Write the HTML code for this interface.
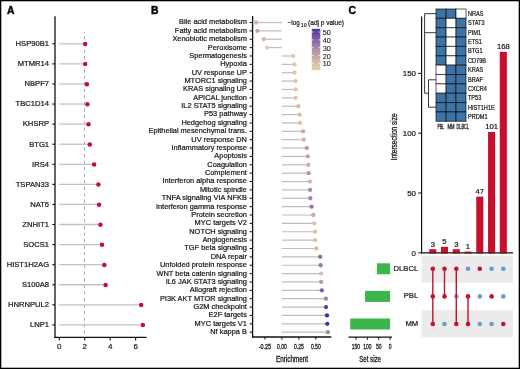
<!DOCTYPE html>
<html><head><meta charset="utf-8"><style>
html,body{margin:0;padding:0;background:#fff;}
svg{display:block;will-change:transform;}
text{font-family:"Liberation Sans", sans-serif;fill:#1a1a1a;stroke:#1a1a1a;stroke-width:0.22px;}
.cd{stroke:#1a1a1a;stroke-width:0.32px;}
</style></head><body>
<svg width="520" height="369" viewBox="0 0 520 369" font-family='"Liberation Sans", sans-serif'>
<rect width="520" height="369" fill="#fff"/>
<line x1="84.5" y1="32.0" x2="84.5" y2="337.35" stroke="#a8a8a8" stroke-width="1" stroke-dasharray="3.27,3.27" stroke-dashoffset="2.24"/>
<line x1="59.3" y1="43.80" x2="85.2" y2="43.80" stroke="#c2c2c6" stroke-width="1.3"/>
<circle cx="85.2" cy="44.00" r="2.25" fill="#c8102e"/>
<line x1="52.3" y1="43.80" x2="55.0" y2="43.80" stroke="#111" stroke-width="1.1"/>
<text x="49.1" y="46.15" text-anchor="end" font-size="7.65">HSP90B1</text>
<line x1="59.3" y1="63.88" x2="85.2" y2="63.88" stroke="#c2c2c6" stroke-width="1.3"/>
<circle cx="85.2" cy="64.08" r="2.25" fill="#c8102e"/>
<line x1="52.3" y1="63.88" x2="55.0" y2="63.88" stroke="#111" stroke-width="1.1"/>
<text x="49.1" y="66.23" text-anchor="end" font-size="7.65">MTMR14</text>
<line x1="59.3" y1="83.96" x2="86.9" y2="83.96" stroke="#c2c2c6" stroke-width="1.3"/>
<circle cx="86.9" cy="84.16" r="2.25" fill="#c8102e"/>
<line x1="52.3" y1="83.96" x2="55.0" y2="83.96" stroke="#111" stroke-width="1.1"/>
<text x="49.1" y="86.31" text-anchor="end" font-size="7.65">NBPF7</text>
<line x1="59.3" y1="104.04" x2="87.4" y2="104.04" stroke="#c2c2c6" stroke-width="1.3"/>
<circle cx="87.4" cy="104.24" r="2.25" fill="#c8102e"/>
<line x1="52.3" y1="104.04" x2="55.0" y2="104.04" stroke="#111" stroke-width="1.1"/>
<text x="49.1" y="106.39" text-anchor="end" font-size="7.65">TBC1D14</text>
<line x1="59.3" y1="124.12" x2="88.5" y2="124.12" stroke="#c2c2c6" stroke-width="1.3"/>
<circle cx="88.5" cy="124.32" r="2.25" fill="#c8102e"/>
<line x1="52.3" y1="124.12" x2="55.0" y2="124.12" stroke="#111" stroke-width="1.1"/>
<text x="49.1" y="126.47" text-anchor="end" font-size="7.65">KHSRP</text>
<line x1="59.3" y1="144.20" x2="89.8" y2="144.20" stroke="#c2c2c6" stroke-width="1.3"/>
<circle cx="89.8" cy="144.40" r="2.25" fill="#c8102e"/>
<line x1="52.3" y1="144.20" x2="55.0" y2="144.20" stroke="#111" stroke-width="1.1"/>
<text x="49.1" y="146.55" text-anchor="end" font-size="7.65">BTG1</text>
<line x1="59.3" y1="164.28" x2="94.1" y2="164.28" stroke="#c2c2c6" stroke-width="1.3"/>
<circle cx="94.1" cy="164.48" r="2.25" fill="#c8102e"/>
<line x1="52.3" y1="164.28" x2="55.0" y2="164.28" stroke="#111" stroke-width="1.1"/>
<text x="49.1" y="166.63" text-anchor="end" font-size="7.65">IRS4</text>
<line x1="59.3" y1="184.36" x2="98.4" y2="184.36" stroke="#c2c2c6" stroke-width="1.3"/>
<circle cx="98.4" cy="184.56" r="2.25" fill="#c8102e"/>
<line x1="52.3" y1="184.36" x2="55.0" y2="184.36" stroke="#111" stroke-width="1.1"/>
<text x="49.1" y="186.71" text-anchor="end" font-size="7.65">TSPAN33</text>
<line x1="59.3" y1="204.44" x2="99.1" y2="204.44" stroke="#c2c2c6" stroke-width="1.3"/>
<circle cx="99.1" cy="204.64" r="2.25" fill="#c8102e"/>
<line x1="52.3" y1="204.44" x2="55.0" y2="204.44" stroke="#111" stroke-width="1.1"/>
<text x="49.1" y="206.79" text-anchor="end" font-size="7.65">NAT6</text>
<line x1="59.3" y1="224.52" x2="100.4" y2="224.52" stroke="#c2c2c6" stroke-width="1.3"/>
<circle cx="100.4" cy="224.72" r="2.25" fill="#c8102e"/>
<line x1="52.3" y1="224.52" x2="55.0" y2="224.52" stroke="#111" stroke-width="1.1"/>
<text x="49.1" y="226.87" text-anchor="end" font-size="7.65">ZNHIT1</text>
<line x1="59.3" y1="244.60" x2="102.0" y2="244.60" stroke="#c2c2c6" stroke-width="1.3"/>
<circle cx="102.0" cy="244.80" r="2.25" fill="#c8102e"/>
<line x1="52.3" y1="244.60" x2="55.0" y2="244.60" stroke="#111" stroke-width="1.1"/>
<text x="49.1" y="246.95" text-anchor="end" font-size="7.65">SOCS1</text>
<line x1="59.3" y1="264.68" x2="104.3" y2="264.68" stroke="#c2c2c6" stroke-width="1.3"/>
<circle cx="104.3" cy="264.88" r="2.25" fill="#c8102e"/>
<line x1="52.3" y1="264.68" x2="55.0" y2="264.68" stroke="#111" stroke-width="1.1"/>
<text x="49.1" y="267.03" text-anchor="end" font-size="7.65">HIST1H2AG</text>
<line x1="59.3" y1="284.76" x2="105.6" y2="284.76" stroke="#c2c2c6" stroke-width="1.3"/>
<circle cx="105.6" cy="284.96" r="2.25" fill="#c8102e"/>
<line x1="52.3" y1="284.76" x2="55.0" y2="284.76" stroke="#111" stroke-width="1.1"/>
<text x="49.1" y="287.11" text-anchor="end" font-size="7.65">S100A8</text>
<line x1="59.3" y1="304.84" x2="141.2" y2="304.84" stroke="#c2c2c6" stroke-width="1.3"/>
<circle cx="141.2" cy="305.04" r="2.25" fill="#c8102e"/>
<line x1="52.3" y1="304.84" x2="55.0" y2="304.84" stroke="#111" stroke-width="1.1"/>
<text x="49.1" y="307.19" text-anchor="end" font-size="7.65">HNRNPUL2</text>
<line x1="59.3" y1="324.92" x2="142.9" y2="324.92" stroke="#c2c2c6" stroke-width="1.3"/>
<circle cx="142.9" cy="325.12" r="2.25" fill="#c8102e"/>
<line x1="52.3" y1="324.92" x2="55.0" y2="324.92" stroke="#111" stroke-width="1.1"/>
<text x="49.1" y="327.27" text-anchor="end" font-size="7.65">LNP1</text>
<line x1="55.0" y1="16.2" x2="55.0" y2="337.95000000000005" stroke="#111" stroke-width="1.3"/>
<line x1="54.4" y1="337.35" x2="146.5" y2="337.35" stroke="#111" stroke-width="1.3"/>
<line x1="59.30" y1="337.35" x2="59.30" y2="340.55" stroke="#111" stroke-width="1.1"/>
<text x="59.30" y="348.55" text-anchor="middle" font-size="8.0">0</text>
<line x1="84.74" y1="337.35" x2="84.74" y2="340.55" stroke="#111" stroke-width="1.1"/>
<text x="84.74" y="348.55" text-anchor="middle" font-size="8.0">2</text>
<line x1="110.18" y1="337.35" x2="110.18" y2="340.55" stroke="#111" stroke-width="1.1"/>
<text x="110.18" y="348.55" text-anchor="middle" font-size="8.0">4</text>
<line x1="135.62" y1="337.35" x2="135.62" y2="340.55" stroke="#111" stroke-width="1.1"/>
<text x="135.62" y="348.55" text-anchor="middle" font-size="8.0">6</text>
<text x="7.0" y="13.9" font-size="10.4" font-weight="bold" style="fill:#000;stroke:#000;stroke-width:0.4px">A</text>
<line x1="281.9" y1="22.50" x2="256.1" y2="22.50" stroke="#bdbdbd" stroke-width="1.2"/>
<circle cx="256.1" cy="22.50" r="2.15" fill="#d8b4a4"/>
<line x1="249.6" y1="22.50" x2="252.6" y2="22.50" stroke="#111" stroke-width="1"/>
<text x="246.9" y="24.40" text-anchor="end" font-size="7.42">Bile acid metabolism</text>
<line x1="281.9" y1="30.87" x2="257.5" y2="30.87" stroke="#bdbdbd" stroke-width="1.2"/>
<circle cx="257.5" cy="30.87" r="2.15" fill="#c8a2a4"/>
<line x1="249.6" y1="30.87" x2="252.6" y2="30.87" stroke="#111" stroke-width="1"/>
<text x="246.9" y="32.77" text-anchor="end" font-size="7.42">Fatty acid metabolism</text>
<line x1="281.9" y1="39.24" x2="263.8" y2="39.24" stroke="#bdbdbd" stroke-width="1.2"/>
<circle cx="263.8" cy="39.24" r="2.15" fill="#d8b6a4"/>
<line x1="249.6" y1="39.24" x2="252.6" y2="39.24" stroke="#111" stroke-width="1"/>
<text x="246.9" y="41.14" text-anchor="end" font-size="7.42">Xenobiotic metabolism</text>
<line x1="281.9" y1="47.61" x2="267.1" y2="47.61" stroke="#bdbdbd" stroke-width="1.2"/>
<circle cx="267.1" cy="47.61" r="2.15" fill="#e6cda2"/>
<line x1="249.6" y1="47.61" x2="252.6" y2="47.61" stroke="#111" stroke-width="1"/>
<text x="246.9" y="49.51" text-anchor="end" font-size="7.42">Peroxisome</text>
<line x1="281.9" y1="55.98" x2="293.2" y2="55.98" stroke="#bdbdbd" stroke-width="1.2"/>
<circle cx="293.2" cy="55.98" r="2.15" fill="#e0c8a4"/>
<line x1="249.6" y1="55.98" x2="252.6" y2="55.98" stroke="#111" stroke-width="1"/>
<text x="246.9" y="57.88" text-anchor="end" font-size="7.42">Spermatogenesis</text>
<line x1="281.9" y1="64.35" x2="294.5" y2="64.35" stroke="#bdbdbd" stroke-width="1.2"/>
<circle cx="294.5" cy="64.35" r="2.15" fill="#e0c8a4"/>
<line x1="249.6" y1="64.35" x2="252.6" y2="64.35" stroke="#111" stroke-width="1"/>
<text x="246.9" y="66.25" text-anchor="end" font-size="7.42">Hypoxia</text>
<line x1="281.9" y1="72.72" x2="294.5" y2="72.72" stroke="#bdbdbd" stroke-width="1.2"/>
<circle cx="294.5" cy="72.72" r="2.15" fill="#e0c8a4"/>
<line x1="249.6" y1="72.72" x2="252.6" y2="72.72" stroke="#111" stroke-width="1"/>
<text x="246.9" y="74.62" text-anchor="end" font-size="7.42">UV response UP</text>
<line x1="281.9" y1="81.09" x2="295.6" y2="81.09" stroke="#bdbdbd" stroke-width="1.2"/>
<circle cx="295.6" cy="81.09" r="2.15" fill="#dec6a4"/>
<line x1="249.6" y1="81.09" x2="252.6" y2="81.09" stroke="#111" stroke-width="1"/>
<text x="246.9" y="82.99" text-anchor="end" font-size="7.42">MTORC1 signaling</text>
<line x1="281.9" y1="89.46" x2="295.6" y2="89.46" stroke="#bdbdbd" stroke-width="1.2"/>
<circle cx="295.6" cy="89.46" r="2.15" fill="#dec6a4"/>
<line x1="249.6" y1="89.46" x2="252.6" y2="89.46" stroke="#111" stroke-width="1"/>
<text x="246.9" y="91.36" text-anchor="end" font-size="7.42">KRAS signaling UP</text>
<line x1="281.9" y1="97.83" x2="295.6" y2="97.83" stroke="#bdbdbd" stroke-width="1.2"/>
<circle cx="295.6" cy="97.83" r="2.15" fill="#dec6a4"/>
<line x1="249.6" y1="97.83" x2="252.6" y2="97.83" stroke="#111" stroke-width="1"/>
<text x="246.9" y="99.73" text-anchor="end" font-size="7.42">APICAL junction</text>
<line x1="281.9" y1="106.20" x2="298.4" y2="106.20" stroke="#bdbdbd" stroke-width="1.2"/>
<circle cx="298.4" cy="106.20" r="2.15" fill="#d8bca4"/>
<line x1="249.6" y1="106.20" x2="252.6" y2="106.20" stroke="#111" stroke-width="1"/>
<text x="246.9" y="108.10" text-anchor="end" font-size="7.42">IL2 STAT5 signaling</text>
<line x1="281.9" y1="114.57" x2="299.7" y2="114.57" stroke="#bdbdbd" stroke-width="1.2"/>
<circle cx="299.7" cy="114.57" r="2.15" fill="#d8bca4"/>
<line x1="249.6" y1="114.57" x2="252.6" y2="114.57" stroke="#111" stroke-width="1"/>
<text x="246.9" y="116.47" text-anchor="end" font-size="7.42">P53 pathway</text>
<line x1="281.9" y1="122.94" x2="300.1" y2="122.94" stroke="#bdbdbd" stroke-width="1.2"/>
<circle cx="300.1" cy="122.94" r="2.15" fill="#dec6a4"/>
<line x1="249.6" y1="122.94" x2="252.6" y2="122.94" stroke="#111" stroke-width="1"/>
<text x="246.9" y="124.84" text-anchor="end" font-size="7.42">Hedgehog signaling</text>
<line x1="281.9" y1="131.31" x2="303.1" y2="131.31" stroke="#bdbdbd" stroke-width="1.2"/>
<circle cx="303.1" cy="131.31" r="2.15" fill="#d0a8a0"/>
<line x1="249.6" y1="131.31" x2="252.6" y2="131.31" stroke="#111" stroke-width="1"/>
<text x="246.9" y="133.21" text-anchor="end" font-size="7.42">Epithelial mesenchymal trans.</text>
<line x1="281.9" y1="139.68" x2="303.8" y2="139.68" stroke="#bdbdbd" stroke-width="1.2"/>
<circle cx="303.8" cy="139.68" r="2.15" fill="#d8b4a0"/>
<line x1="249.6" y1="139.68" x2="252.6" y2="139.68" stroke="#111" stroke-width="1"/>
<text x="246.9" y="141.58" text-anchor="end" font-size="7.42">UV response DN</text>
<line x1="281.9" y1="148.05" x2="306.8" y2="148.05" stroke="#bdbdbd" stroke-width="1.2"/>
<circle cx="306.8" cy="148.05" r="2.15" fill="#bc92a4"/>
<line x1="249.6" y1="148.05" x2="252.6" y2="148.05" stroke="#111" stroke-width="1"/>
<text x="246.9" y="149.95" text-anchor="end" font-size="7.42">Inflammatory response</text>
<line x1="281.9" y1="156.42" x2="307.9" y2="156.42" stroke="#bdbdbd" stroke-width="1.2"/>
<circle cx="307.9" cy="156.42" r="2.15" fill="#c8a0a4"/>
<line x1="249.6" y1="156.42" x2="252.6" y2="156.42" stroke="#111" stroke-width="1"/>
<text x="246.9" y="158.32" text-anchor="end" font-size="7.42">Apoptosis</text>
<line x1="281.9" y1="164.79" x2="308.3" y2="164.79" stroke="#bdbdbd" stroke-width="1.2"/>
<circle cx="308.3" cy="164.79" r="2.15" fill="#d0aaa2"/>
<line x1="249.6" y1="164.79" x2="252.6" y2="164.79" stroke="#111" stroke-width="1"/>
<text x="246.9" y="166.69" text-anchor="end" font-size="7.42">Coagulation</text>
<line x1="281.9" y1="173.16" x2="308.6" y2="173.16" stroke="#bdbdbd" stroke-width="1.2"/>
<circle cx="308.6" cy="173.16" r="2.15" fill="#b890aa"/>
<line x1="249.6" y1="173.16" x2="252.6" y2="173.16" stroke="#111" stroke-width="1"/>
<text x="246.9" y="175.06" text-anchor="end" font-size="7.42">Complement</text>
<line x1="281.9" y1="181.53" x2="309.9" y2="181.53" stroke="#bdbdbd" stroke-width="1.2"/>
<circle cx="309.9" cy="181.53" r="2.15" fill="#d6b4a6"/>
<line x1="249.6" y1="181.53" x2="252.6" y2="181.53" stroke="#111" stroke-width="1"/>
<text x="246.9" y="183.43" text-anchor="end" font-size="7.42">Interferon alpha response</text>
<line x1="281.9" y1="189.90" x2="310.1" y2="189.90" stroke="#bdbdbd" stroke-width="1.2"/>
<circle cx="310.1" cy="189.90" r="2.15" fill="#ae86aa"/>
<line x1="249.6" y1="189.90" x2="252.6" y2="189.90" stroke="#111" stroke-width="1"/>
<text x="246.9" y="191.80" text-anchor="end" font-size="7.42">Mitotic spindle</text>
<line x1="281.9" y1="198.27" x2="310.3" y2="198.27" stroke="#bdbdbd" stroke-width="1.2"/>
<circle cx="310.3" cy="198.27" r="2.15" fill="#a880a8"/>
<line x1="249.6" y1="198.27" x2="252.6" y2="198.27" stroke="#111" stroke-width="1"/>
<text x="246.9" y="200.17" text-anchor="end" font-size="7.42">TNFA signaling VIA NFKB</text>
<line x1="281.9" y1="206.64" x2="311.6" y2="206.64" stroke="#bdbdbd" stroke-width="1.2"/>
<circle cx="311.6" cy="206.64" r="2.15" fill="#9a78a4"/>
<line x1="249.6" y1="206.64" x2="252.6" y2="206.64" stroke="#111" stroke-width="1"/>
<text x="246.9" y="208.54" text-anchor="end" font-size="7.42">Interferon gamma response</text>
<line x1="281.9" y1="215.01" x2="313.3" y2="215.01" stroke="#bdbdbd" stroke-width="1.2"/>
<circle cx="313.3" cy="215.01" r="2.15" fill="#d0a8a4"/>
<line x1="249.6" y1="215.01" x2="252.6" y2="215.01" stroke="#111" stroke-width="1"/>
<text x="246.9" y="216.91" text-anchor="end" font-size="7.42">Protein secretion</text>
<line x1="281.9" y1="223.38" x2="314.4" y2="223.38" stroke="#bdbdbd" stroke-width="1.2"/>
<circle cx="314.4" cy="223.38" r="2.15" fill="#d8c0a4"/>
<line x1="249.6" y1="223.38" x2="252.6" y2="223.38" stroke="#111" stroke-width="1"/>
<text x="246.9" y="225.28" text-anchor="end" font-size="7.42">MYC targets V2</text>
<line x1="281.9" y1="231.75" x2="315.0" y2="231.75" stroke="#bdbdbd" stroke-width="1.2"/>
<circle cx="315.0" cy="231.75" r="2.15" fill="#dcc4a4"/>
<line x1="249.6" y1="231.75" x2="252.6" y2="231.75" stroke="#111" stroke-width="1"/>
<text x="246.9" y="233.65" text-anchor="end" font-size="7.42">NOTCH signaling</text>
<line x1="281.9" y1="240.12" x2="315.3" y2="240.12" stroke="#bdbdbd" stroke-width="1.2"/>
<circle cx="315.3" cy="240.12" r="2.15" fill="#dcc4a4"/>
<line x1="249.6" y1="240.12" x2="252.6" y2="240.12" stroke="#111" stroke-width="1"/>
<text x="246.9" y="242.02" text-anchor="end" font-size="7.42">Angiogenesis</text>
<line x1="281.9" y1="248.49" x2="316.4" y2="248.49" stroke="#bdbdbd" stroke-width="1.2"/>
<circle cx="316.4" cy="248.49" r="2.15" fill="#d8c0a4"/>
<line x1="249.6" y1="248.49" x2="252.6" y2="248.49" stroke="#111" stroke-width="1"/>
<text x="246.9" y="250.39" text-anchor="end" font-size="7.42">TGF beta signaling</text>
<line x1="281.9" y1="256.86" x2="320.2" y2="256.86" stroke="#bdbdbd" stroke-width="1.2"/>
<circle cx="320.2" cy="256.86" r="2.15" fill="#8a68a4"/>
<line x1="249.6" y1="256.86" x2="252.6" y2="256.86" stroke="#111" stroke-width="1"/>
<text x="246.9" y="258.76" text-anchor="end" font-size="7.42">DNA repair</text>
<line x1="281.9" y1="265.23" x2="320.7" y2="265.23" stroke="#bdbdbd" stroke-width="1.2"/>
<circle cx="320.7" cy="265.23" r="2.15" fill="#9c78a8"/>
<line x1="249.6" y1="265.23" x2="252.6" y2="265.23" stroke="#111" stroke-width="1"/>
<text x="246.9" y="267.13" text-anchor="end" font-size="7.42">Unfolded protein response</text>
<line x1="281.9" y1="273.60" x2="321.1" y2="273.60" stroke="#bdbdbd" stroke-width="1.2"/>
<circle cx="321.1" cy="273.60" r="2.15" fill="#d8c0a4"/>
<line x1="249.6" y1="273.60" x2="252.6" y2="273.60" stroke="#111" stroke-width="1"/>
<text x="246.9" y="275.50" text-anchor="end" font-size="7.42">WNT beta catenin signaling</text>
<line x1="281.9" y1="281.97" x2="321.1" y2="281.97" stroke="#bdbdbd" stroke-width="1.2"/>
<circle cx="321.1" cy="281.97" r="2.15" fill="#b898aa"/>
<line x1="249.6" y1="281.97" x2="252.6" y2="281.97" stroke="#111" stroke-width="1"/>
<text x="246.9" y="283.87" text-anchor="end" font-size="7.42">IL6 JAK STAT3 signaling</text>
<line x1="281.9" y1="290.34" x2="321.8" y2="290.34" stroke="#bdbdbd" stroke-width="1.2"/>
<circle cx="321.8" cy="290.34" r="2.15" fill="#7a5aa0"/>
<line x1="249.6" y1="290.34" x2="252.6" y2="290.34" stroke="#111" stroke-width="1"/>
<text x="246.9" y="292.24" text-anchor="end" font-size="7.42">Allograft rejection</text>
<line x1="281.9" y1="298.71" x2="325.9" y2="298.71" stroke="#bdbdbd" stroke-width="1.2"/>
<circle cx="325.9" cy="298.71" r="2.15" fill="#a586a8"/>
<line x1="249.6" y1="298.71" x2="252.6" y2="298.71" stroke="#111" stroke-width="1"/>
<text x="246.9" y="300.61" text-anchor="end" font-size="7.42">PI3K AKT MTOR signaling</text>
<line x1="281.9" y1="307.08" x2="326.0" y2="307.08" stroke="#bdbdbd" stroke-width="1.2"/>
<circle cx="326.0" cy="307.08" r="2.15" fill="#5b3a9c"/>
<line x1="249.6" y1="307.08" x2="252.6" y2="307.08" stroke="#111" stroke-width="1"/>
<text x="246.9" y="308.98" text-anchor="end" font-size="7.42">G2M checkpoint</text>
<line x1="281.9" y1="315.45" x2="327.0" y2="315.45" stroke="#bdbdbd" stroke-width="1.2"/>
<circle cx="327.0" cy="315.45" r="2.15" fill="#4a2d93"/>
<line x1="249.6" y1="315.45" x2="252.6" y2="315.45" stroke="#111" stroke-width="1"/>
<text x="246.9" y="317.35" text-anchor="end" font-size="7.42">E2F targets</text>
<line x1="281.9" y1="323.82" x2="327.3" y2="323.82" stroke="#bdbdbd" stroke-width="1.2"/>
<circle cx="327.3" cy="323.82" r="2.15" fill="#4a2d93"/>
<line x1="249.6" y1="323.82" x2="252.6" y2="323.82" stroke="#111" stroke-width="1"/>
<text x="246.9" y="325.72" text-anchor="end" font-size="7.42">MYC targets V1</text>
<line x1="281.9" y1="332.19" x2="327.9" y2="332.19" stroke="#bdbdbd" stroke-width="1.2"/>
<circle cx="327.9" cy="332.19" r="2.15" fill="#a586a8"/>
<line x1="249.6" y1="332.19" x2="252.6" y2="332.19" stroke="#111" stroke-width="1"/>
<text x="246.9" y="334.09" text-anchor="end" font-size="7.42">Nf kappa B</text>
<line x1="252.6" y1="16.1" x2="252.6" y2="337.6" stroke="#111" stroke-width="1.3"/>
<line x1="252.0" y1="337.0" x2="331.3" y2="337.0" stroke="#111" stroke-width="1.3"/>
<line x1="264.95" y1="337.0" x2="264.95" y2="339.6" stroke="#111" stroke-width="1"/>
<text x="264.95" y="348.9" text-anchor="middle" font-size="7.4" textLength="12.4" lengthAdjust="spacingAndGlyphs" class="cd">-0.25</text>
<line x1="281.90" y1="337.0" x2="281.90" y2="339.6" stroke="#111" stroke-width="1"/>
<text x="281.90" y="348.9" text-anchor="middle" font-size="7.4" textLength="9.8" lengthAdjust="spacingAndGlyphs" class="cd">0.00</text>
<line x1="298.85" y1="337.0" x2="298.85" y2="339.6" stroke="#111" stroke-width="1"/>
<text x="298.85" y="348.9" text-anchor="middle" font-size="7.4" textLength="9.8" lengthAdjust="spacingAndGlyphs" class="cd">0.25</text>
<line x1="315.80" y1="337.0" x2="315.80" y2="339.6" stroke="#111" stroke-width="1"/>
<text x="315.80" y="348.9" text-anchor="middle" font-size="7.4" textLength="9.8" lengthAdjust="spacingAndGlyphs" class="cd">0.50</text>
<text x="292" y="361.6" text-anchor="middle" font-size="8.9" textLength="32" lengthAdjust="spacingAndGlyphs" class="cd">Enrichment</text>
<text x="150.9" y="13.9" font-size="10.4" font-weight="bold" style="fill:#000;stroke:#000;stroke-width:0.4px">B</text>
<defs><linearGradient id="cb" x1="0" y1="1" x2="0" y2="0"><stop offset="0" stop-color="#e8d3a6"/><stop offset="0.22" stop-color="#d6b8a8"/><stop offset="0.55" stop-color="#a586a8"/><stop offset="1" stop-color="#50329a"/></linearGradient></defs>
<rect x="311.8" y="28.8" width="8.5" height="41.4" fill="url(#cb)"/>
<line x1="311.8" y1="63.40" x2="313.5" y2="63.40" stroke="#fff" stroke-width="0.8"/>
<line x1="318.6" y1="63.40" x2="320.3" y2="63.40" stroke="#fff" stroke-width="0.8"/>
<text x="322.7" y="66.40" font-size="7.3" textLength="8.1" lengthAdjust="spacingAndGlyphs" style="stroke-width:0.1px">10</text>
<line x1="311.8" y1="55.55" x2="313.5" y2="55.55" stroke="#fff" stroke-width="0.8"/>
<line x1="318.6" y1="55.55" x2="320.3" y2="55.55" stroke="#fff" stroke-width="0.8"/>
<text x="322.7" y="58.55" font-size="7.3" textLength="8.1" lengthAdjust="spacingAndGlyphs" style="stroke-width:0.1px">20</text>
<line x1="311.8" y1="47.70" x2="313.5" y2="47.70" stroke="#fff" stroke-width="0.8"/>
<line x1="318.6" y1="47.70" x2="320.3" y2="47.70" stroke="#fff" stroke-width="0.8"/>
<text x="322.7" y="50.70" font-size="7.3" textLength="8.1" lengthAdjust="spacingAndGlyphs" style="stroke-width:0.1px">30</text>
<line x1="311.8" y1="39.85" x2="313.5" y2="39.85" stroke="#fff" stroke-width="0.8"/>
<line x1="318.6" y1="39.85" x2="320.3" y2="39.85" stroke="#fff" stroke-width="0.8"/>
<text x="322.7" y="42.85" font-size="7.3" textLength="8.1" lengthAdjust="spacingAndGlyphs" style="stroke-width:0.1px">40</text>
<line x1="311.8" y1="32.00" x2="313.5" y2="32.00" stroke="#fff" stroke-width="0.8"/>
<line x1="318.6" y1="32.00" x2="320.3" y2="32.00" stroke="#fff" stroke-width="0.8"/>
<text x="322.7" y="35.00" font-size="7.3" textLength="8.1" lengthAdjust="spacingAndGlyphs" style="stroke-width:0.1px">50</text>
<text x="287.7" y="24.6" font-size="6.8" textLength="11.9" lengthAdjust="spacingAndGlyphs">−log</text>
<text x="300.9" y="26.6" font-size="4.7" letter-spacing="0.55">10</text>
<text x="308.1" y="24.6" font-size="6.8" textLength="35.9" lengthAdjust="spacingAndGlyphs">(adj p value)</text>
<text x="348.4" y="14.0" font-size="10.4" font-weight="bold" style="fill:#000;stroke:#000;stroke-width:0.4px">C</text>
<rect x="436.0" y="9.00" width="10.10" height="9.36" fill="#3e73a6" stroke="rgba(0,0,0,0.6)" stroke-width="1.05"/>
<rect x="446.1" y="9.00" width="9.90" height="9.36" fill="#3e73a6" stroke="rgba(0,0,0,0.6)" stroke-width="1.05"/>
<rect x="456.0" y="9.00" width="10.00" height="9.36" fill="#ffffff" stroke="rgba(0,0,0,0.6)" stroke-width="1.05"/>
<text transform="translate(467.9,15.98) scale(0.88,1)" font-size="6.4">NRAS</text>
<rect x="436.0" y="18.36" width="10.10" height="9.36" fill="#3e73a6" stroke="rgba(0,0,0,0.6)" stroke-width="1.05"/>
<rect x="446.1" y="18.36" width="9.90" height="9.36" fill="#ffffff" stroke="rgba(0,0,0,0.6)" stroke-width="1.05"/>
<rect x="456.0" y="18.36" width="10.00" height="9.36" fill="#3e73a6" stroke="rgba(0,0,0,0.6)" stroke-width="1.05"/>
<text transform="translate(467.9,25.34) scale(0.88,1)" font-size="6.4">STAT3</text>
<rect x="436.0" y="27.72" width="10.10" height="9.36" fill="#3e73a6" stroke="rgba(0,0,0,0.6)" stroke-width="1.05"/>
<rect x="446.1" y="27.72" width="9.90" height="9.36" fill="#ffffff" stroke="rgba(0,0,0,0.6)" stroke-width="1.05"/>
<rect x="456.0" y="27.72" width="10.00" height="9.36" fill="#3e73a6" stroke="rgba(0,0,0,0.6)" stroke-width="1.05"/>
<text transform="translate(467.9,34.70) scale(0.88,1)" font-size="6.4">PIM1</text>
<rect x="436.0" y="37.08" width="10.10" height="9.36" fill="#3e73a6" stroke="rgba(0,0,0,0.6)" stroke-width="1.05"/>
<rect x="446.1" y="37.08" width="9.90" height="9.36" fill="#ffffff" stroke="rgba(0,0,0,0.6)" stroke-width="1.05"/>
<rect x="456.0" y="37.08" width="10.00" height="9.36" fill="#3e73a6" stroke="rgba(0,0,0,0.6)" stroke-width="1.05"/>
<text transform="translate(467.9,44.06) scale(0.88,1)" font-size="6.4">ETS1</text>
<rect x="436.0" y="46.44" width="10.10" height="9.36" fill="#3e73a6" stroke="rgba(0,0,0,0.6)" stroke-width="1.05"/>
<rect x="446.1" y="46.44" width="9.90" height="9.36" fill="#ffffff" stroke="rgba(0,0,0,0.6)" stroke-width="1.05"/>
<rect x="456.0" y="46.44" width="10.00" height="9.36" fill="#3e73a6" stroke="rgba(0,0,0,0.6)" stroke-width="1.05"/>
<text transform="translate(467.9,53.42) scale(0.88,1)" font-size="6.4">BTG1</text>
<rect x="436.0" y="55.80" width="10.10" height="9.36" fill="#3e73a6" stroke="rgba(0,0,0,0.6)" stroke-width="1.05"/>
<rect x="446.1" y="55.80" width="9.90" height="9.36" fill="#ffffff" stroke="rgba(0,0,0,0.6)" stroke-width="1.05"/>
<rect x="456.0" y="55.80" width="10.00" height="9.36" fill="#3e73a6" stroke="rgba(0,0,0,0.6)" stroke-width="1.05"/>
<text transform="translate(467.9,62.78) scale(0.88,1)" font-size="6.4">CD79B</text>
<rect x="436.0" y="65.16" width="10.10" height="9.36" fill="#ffffff" stroke="rgba(0,0,0,0.6)" stroke-width="1.05"/>
<rect x="446.1" y="65.16" width="9.90" height="9.36" fill="#3e73a6" stroke="rgba(0,0,0,0.6)" stroke-width="1.05"/>
<rect x="456.0" y="65.16" width="10.00" height="9.36" fill="#3e73a6" stroke="rgba(0,0,0,0.6)" stroke-width="1.05"/>
<text transform="translate(467.9,72.14) scale(0.88,1)" font-size="6.4">KRAS</text>
<rect x="436.0" y="74.52" width="10.10" height="9.36" fill="#ffffff" stroke="rgba(0,0,0,0.6)" stroke-width="1.05"/>
<rect x="446.1" y="74.52" width="9.90" height="9.36" fill="#3e73a6" stroke="rgba(0,0,0,0.6)" stroke-width="1.05"/>
<rect x="456.0" y="74.52" width="10.00" height="9.36" fill="#3e73a6" stroke="rgba(0,0,0,0.6)" stroke-width="1.05"/>
<text transform="translate(467.9,81.50) scale(0.88,1)" font-size="6.4">BRAF</text>
<rect x="436.0" y="83.88" width="10.10" height="9.36" fill="#ffffff" stroke="rgba(0,0,0,0.6)" stroke-width="1.05"/>
<rect x="446.1" y="83.88" width="9.90" height="9.36" fill="#3e73a6" stroke="rgba(0,0,0,0.6)" stroke-width="1.05"/>
<rect x="456.0" y="83.88" width="10.00" height="9.36" fill="#3e73a6" stroke="rgba(0,0,0,0.6)" stroke-width="1.05"/>
<text transform="translate(467.9,90.86) scale(0.88,1)" font-size="6.4">CXCR4</text>
<rect x="436.0" y="93.24" width="10.10" height="9.36" fill="#3e73a6" stroke="rgba(0,0,0,0.6)" stroke-width="1.05"/>
<rect x="446.1" y="93.24" width="9.90" height="9.36" fill="#3e73a6" stroke="rgba(0,0,0,0.6)" stroke-width="1.05"/>
<rect x="456.0" y="93.24" width="10.00" height="9.36" fill="#3e73a6" stroke="rgba(0,0,0,0.6)" stroke-width="1.05"/>
<text transform="translate(467.9,100.22) scale(0.88,1)" font-size="6.4">TP53</text>
<rect x="436.0" y="102.60" width="10.10" height="9.36" fill="#3e73a6" stroke="rgba(0,0,0,0.6)" stroke-width="1.05"/>
<rect x="446.1" y="102.60" width="9.90" height="9.36" fill="#3e73a6" stroke="rgba(0,0,0,0.6)" stroke-width="1.05"/>
<rect x="456.0" y="102.60" width="10.00" height="9.36" fill="#3e73a6" stroke="rgba(0,0,0,0.6)" stroke-width="1.05"/>
<text transform="translate(467.9,109.58) scale(0.88,1)" font-size="6.4">HIST1H1E</text>
<rect x="436.0" y="111.96" width="10.10" height="9.36" fill="#3e73a6" stroke="rgba(0,0,0,0.6)" stroke-width="1.05"/>
<rect x="446.1" y="111.96" width="9.90" height="9.36" fill="#3e73a6" stroke="rgba(0,0,0,0.6)" stroke-width="1.05"/>
<rect x="456.0" y="111.96" width="10.00" height="9.36" fill="#3e73a6" stroke="rgba(0,0,0,0.6)" stroke-width="1.05"/>
<text transform="translate(467.9,118.94) scale(0.88,1)" font-size="6.4">PRDM1</text>
<text x="440.7" y="129.4" text-anchor="middle" font-size="6.9" textLength="6.5" lengthAdjust="spacingAndGlyphs" class="cd">PBL</text>
<text x="450.9" y="129.4" text-anchor="middle" font-size="6.9" textLength="7.0" lengthAdjust="spacingAndGlyphs" class="cd">MM</text>
<text x="462.8" y="129.4" text-anchor="middle" font-size="6.9" textLength="12.4" lengthAdjust="spacingAndGlyphs" class="cd">DLBCL</text>
<path d="M436 13.68 H424.6 V93.2 H428.5 M424.6 32.7 H436 M428.5 79.8 V107.2 M428.5 79.8 H436 M428.5 107.2 H436" fill="none" stroke="#222" stroke-width="0.9"/>
<line x1="421.6" y1="16.4" x2="421.6" y2="253.4" stroke="#111" stroke-width="1.2"/>
<line x1="421.0" y1="252.8" x2="513" y2="252.8" stroke="#111" stroke-width="1.2"/>
<line x1="418.2" y1="252.80" x2="421.6" y2="252.80" stroke="#111" stroke-width="1"/>
<text x="416.0" y="255.60" text-anchor="end" font-size="7.9">0</text>
<line x1="418.2" y1="193.00" x2="421.6" y2="193.00" stroke="#111" stroke-width="1"/>
<text x="416.0" y="195.80" text-anchor="end" font-size="7.9">50</text>
<line x1="418.2" y1="133.20" x2="421.6" y2="133.20" stroke="#111" stroke-width="1"/>
<text x="416.0" y="136.00" text-anchor="end" font-size="7.9">100</text>
<line x1="418.2" y1="73.40" x2="421.6" y2="73.40" stroke="#111" stroke-width="1"/>
<text x="416.0" y="76.20" text-anchor="end" font-size="7.9">150</text>
<text transform="translate(397.3,136.9) rotate(-90)" text-anchor="middle" font-size="9.2" textLength="47" lengthAdjust="spacingAndGlyphs" class="cd">Intersection size</text>
<rect x="429.25" y="249.21" width="7.1" height="3.59" fill="#c8102e"/>
<rect x="429.25" y="252.20" width="7.1" height="1.2" fill="#7a0614"/>
<text x="432.80" y="246.51" text-anchor="middle" font-size="7.7">3</text>
<rect x="440.95" y="246.82" width="7.1" height="5.98" fill="#c8102e"/>
<rect x="440.95" y="252.20" width="7.1" height="1.2" fill="#7a0614"/>
<text x="444.50" y="244.12" text-anchor="middle" font-size="7.7">5</text>
<rect x="452.75" y="249.21" width="7.1" height="3.59" fill="#c8102e"/>
<rect x="452.75" y="252.20" width="7.1" height="1.2" fill="#7a0614"/>
<text x="456.30" y="246.51" text-anchor="middle" font-size="7.7">3</text>
<rect x="464.45" y="251.60" width="7.1" height="1.20" fill="#c8102e"/>
<rect x="464.45" y="252.20" width="7.1" height="1.2" fill="#7a0614"/>
<text x="468.00" y="248.90" text-anchor="middle" font-size="7.7">1</text>
<rect x="476.25" y="196.59" width="7.1" height="56.21" fill="#c8102e"/>
<rect x="476.25" y="252.20" width="7.1" height="1.2" fill="#7a0614"/>
<text x="479.80" y="193.89" text-anchor="middle" font-size="7.7">47</text>
<rect x="488.05" y="132.00" width="7.1" height="120.80" fill="#c8102e"/>
<rect x="488.05" y="252.20" width="7.1" height="1.2" fill="#7a0614"/>
<text x="491.60" y="129.30" text-anchor="middle" font-size="7.7">101</text>
<rect x="499.75" y="51.87" width="7.1" height="200.93" fill="#c8102e"/>
<rect x="499.75" y="252.20" width="7.1" height="1.2" fill="#7a0614"/>
<text x="503.30" y="49.17" text-anchor="middle" font-size="7.7">168</text>
<rect x="421.6" y="255.6" width="91.4" height="27.1" fill="#ebebeb"/>
<rect x="421.6" y="310.1" width="91.4" height="27.1" fill="#ebebeb"/>
<line x1="432.8" y1="268.8" x2="432.8" y2="324.0" stroke="#c8102e" stroke-width="1.4"/>
<circle cx="432.8" cy="268.8" r="2.3" fill="#c8102e"/>
<circle cx="432.8" cy="296.4" r="2.3" fill="#c8102e"/>
<circle cx="432.8" cy="324.0" r="2.3" fill="#c8102e"/>
<circle cx="444.5" cy="324.0" r="2.3" fill="#6f9cc6"/>
<line x1="444.5" y1="268.8" x2="444.5" y2="296.4" stroke="#c8102e" stroke-width="1.4"/>
<circle cx="444.5" cy="268.8" r="2.3" fill="#c8102e"/>
<circle cx="444.5" cy="296.4" r="2.3" fill="#c8102e"/>
<circle cx="456.3" cy="296.4" r="2.3" fill="#6f9cc6"/>
<line x1="456.3" y1="268.8" x2="456.3" y2="324.0" stroke="#c8102e" stroke-width="1.4"/>
<circle cx="456.3" cy="268.8" r="2.3" fill="#c8102e"/>
<circle cx="456.3" cy="324.0" r="2.3" fill="#c8102e"/>
<circle cx="468.0" cy="268.8" r="2.3" fill="#6f9cc6"/>
<line x1="468.0" y1="296.4" x2="468.0" y2="324.0" stroke="#c8102e" stroke-width="1.4"/>
<circle cx="468.0" cy="296.4" r="2.3" fill="#c8102e"/>
<circle cx="468.0" cy="324.0" r="2.3" fill="#c8102e"/>
<circle cx="479.8" cy="296.4" r="2.3" fill="#6f9cc6"/>
<circle cx="479.8" cy="324.0" r="2.3" fill="#6f9cc6"/>
<circle cx="479.8" cy="268.8" r="2.3" fill="#c8102e"/>
<circle cx="491.6" cy="268.8" r="2.3" fill="#6f9cc6"/>
<circle cx="491.6" cy="324.0" r="2.3" fill="#6f9cc6"/>
<circle cx="491.6" cy="296.4" r="2.3" fill="#c8102e"/>
<circle cx="503.3" cy="268.8" r="2.3" fill="#6f9cc6"/>
<circle cx="503.3" cy="296.4" r="2.3" fill="#6f9cc6"/>
<circle cx="503.3" cy="324.0" r="2.3" fill="#c8102e"/>
<rect x="376.91" y="263.3" width="13.20" height="11" fill="#3cb54a"/>
<rect x="365.08" y="290.9" width="25.03" height="11" fill="#3cb54a"/>
<rect x="350.29" y="318.5" width="39.81" height="11" fill="#3cb54a"/>
<text x="418.2" y="270.8" text-anchor="end" font-size="7.65">DLBCL</text>
<text x="418.2" y="298.4" text-anchor="end" font-size="7.65">PBL</text>
<text x="418.2" y="326.0" text-anchor="end" font-size="7.65">MM</text>
<line x1="348.5" y1="337.1" x2="392" y2="337.1" stroke="#111" stroke-width="1.2"/>
<line x1="355.98" y1="337.1" x2="355.98" y2="339.8" stroke="#111" stroke-width="1"/>
<text x="355.98" y="348.9" text-anchor="middle" font-size="7.6" textLength="8.3" lengthAdjust="spacingAndGlyphs" class="cd">150</text>
<line x1="367.35" y1="337.1" x2="367.35" y2="339.8" stroke="#111" stroke-width="1"/>
<text x="367.35" y="348.9" text-anchor="middle" font-size="7.6" textLength="8.3" lengthAdjust="spacingAndGlyphs" class="cd">100</text>
<line x1="378.73" y1="337.1" x2="378.73" y2="339.8" stroke="#111" stroke-width="1"/>
<text x="378.73" y="348.9" text-anchor="middle" font-size="7.6" textLength="5.6" lengthAdjust="spacingAndGlyphs" class="cd">50</text>
<line x1="390.10" y1="337.1" x2="390.10" y2="339.8" stroke="#111" stroke-width="1"/>
<text x="390.10" y="348.9" text-anchor="middle" font-size="7.6" textLength="2.8" lengthAdjust="spacingAndGlyphs" class="cd">0</text>
<text x="370.1" y="361.6" text-anchor="middle" font-size="8.8" textLength="21.6" lengthAdjust="spacingAndGlyphs" class="cd">Set size</text>
<rect x="0" y="0" width="520" height="369" fill="none" stroke="#000" stroke-width="2.6"/>
</svg>
</body></html>
